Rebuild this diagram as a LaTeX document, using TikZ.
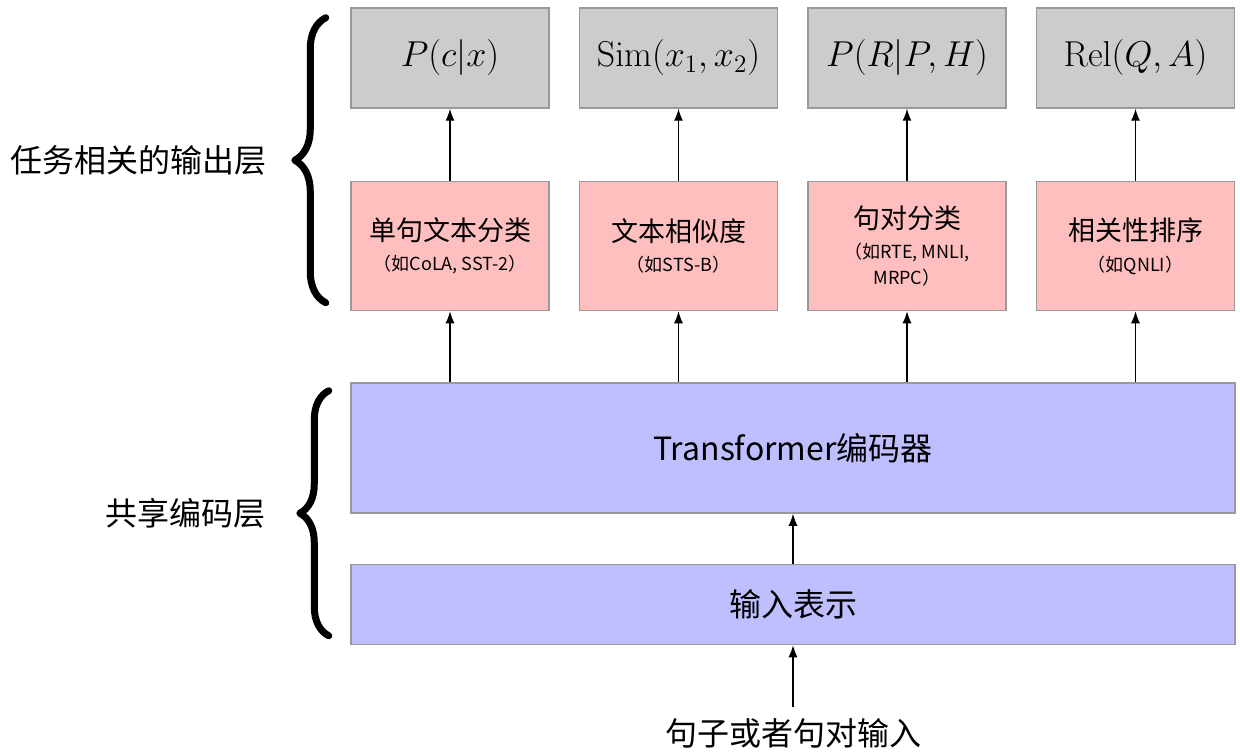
\RequirePackage{fix-cm}
\documentclass[tikz,border=0pt]{standalone}
\usepackage[no-math]{fontspec}
\setmainfont{Noto Sans CJK SC}
\usepackage{amsmath}
\usetikzlibrary{arrows.meta,positioning,calc,decorations.pathreplacing}
\definecolor{outgray}{HTML}{CCCCCC}
\definecolor{taskpink}{HTML}{FFBFBF}
\definecolor{encblue}{HTML}{BFBFFF}
\definecolor{boxedge}{HTML}{999999}
\tikzset{
  outbox/.style = {rectangle, draw=boxedge, fill=outgray, line width=0.75pt, minimum width=99pt, minimum height=50pt, font=\fontsize{18}{21}\selectfont},
  taskbox/.style = {rectangle, draw=boxedge, fill=taskpink, line width=0.75pt, minimum width=99pt, minimum height=64.5pt, align=center, font=\fontsize{9}{13}\selectfont},
  encbox/.style = {rectangle, draw=boxedge, fill=encblue, line width=0.75pt, minimum width=442pt, font=\fontsize{16}{19}\selectfont},
  myarrow/.style = {-{Latex[length=6pt,width=4.5pt]}, line width=0.6pt},
  grpbrace/.style = {decorate, decoration={brace, amplitude=15.5pt}, line width=3.5pt, line cap=round, line join=round},
  grplabel/.style = {inner sep=0pt, font=\fontsize{16}{19}\selectfont},
}
\newcommand{\tasktext}[2]{{\fontsize{13.5}{17}\selectfont #1}\\[2.25pt]#2}

\begin{document}
\begin{tikzpicture}[x=0.5pt, y=-0.5pt, node distance=14.5pt]
\useasboundingbox (0,0) rectangle (1240,754);
% output layer
\node (o1) [outbox] at (450,58) {$P(c|x)$};
\node (o2) [outbox, right=of o1] {$\mathrm{Sim}(x_1, x_2)$};
\node (o3) [outbox, right=of o2] {$P(R|P, H)$};
\node (o4) [outbox, right=of o3] {$\mathrm{Rel}(Q, A)$};

% tasks
\node (t1) [taskbox, below=36pt of o1] {\tasktext{单句文本分类}{（如CoLA, SST-2）}};
\node (t2) [taskbox, below=36pt of o2] {\tasktext{文本相似度}{（如STS-B）}};
\node (t3) [taskbox, below=36pt of o3] {\tasktext{句对分类}{（如RTE, MNLI,\\MRPC）}};
\node (t4) [taskbox, below=36pt of o4] {\tasktext{相关性排序}{（如QNLI）}};

% shared encoder
\node (enc) [encbox, minimum height=65pt, below=35.5pt of t1.south west, anchor=north west] {Transformer编码器};
\node (inp) [encbox, minimum height=40pt, below=25pt of enc] {输入表示};
\node (src) [grplabel, inner ysep=5.5pt, below=31pt of inp] {句子或者句对输入};

\foreach \i in {1,...,4}{
  \draw[myarrow] (t\i) -- (o\i);
  \draw[myarrow] (enc.north -| t\i) -- (t\i);
}
\draw[myarrow] (inp) -- (enc);
\draw[myarrow] (src) -- (inp);

% braces
\coordinate (b1s) at ($(t1.south west)+(-24.5,-8.5)$);
\coordinate (b1n) at ($(o1.north west)+(-24.5,10.5)$);
\coordinate (b1tip) at ($(b1s)!0.5!(b1n)+(-31,0)$);
\draw[grpbrace] (b1s) -- (b1n);
\node (lbltask) [grplabel, left=14pt of b1tip] {任务相关的输出层};

\coordinate (b2s) at ($(inp.south west)+(-21.5,-9.5)$);
\coordinate (b2n) at ($(enc.north west)+(-21.5,8.5)$);
\coordinate (b2tip) at ($(b2s)!0.5!(b2n)+(-29,0)$);
\draw[grpbrace, decoration={brace, amplitude=14.5pt}] (b2s) -- (b2n);
\node (lblshared) [grplabel, left=16.75pt of b2tip] {共享编码层};
\end{tikzpicture}
\end{document}
